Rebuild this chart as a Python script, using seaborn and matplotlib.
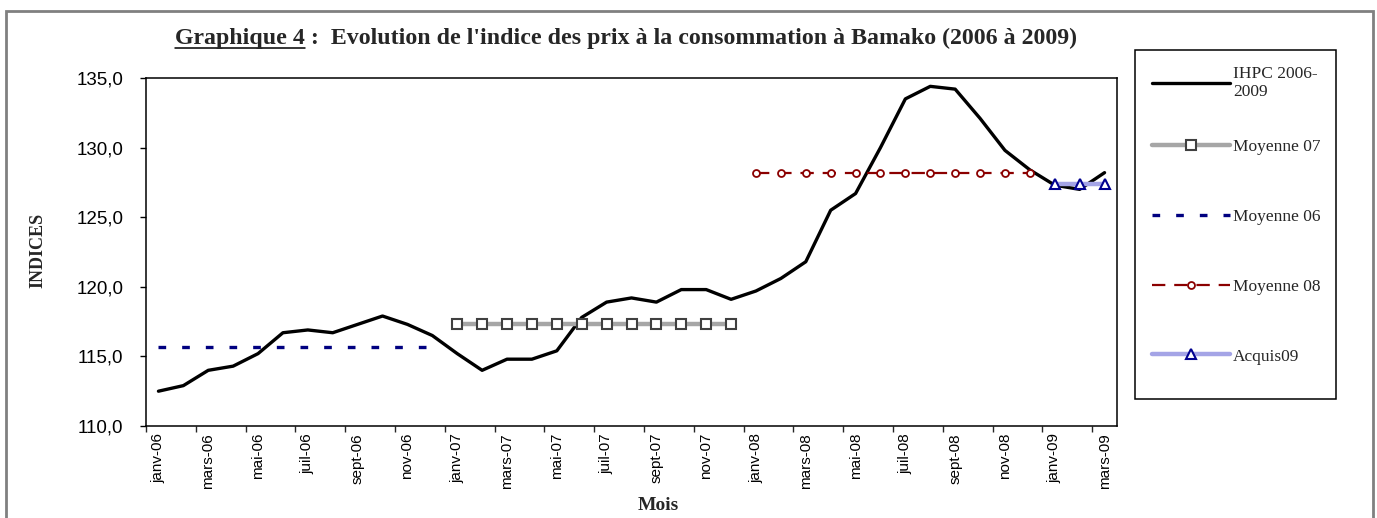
import numpy as np
import pandas as pd
import seaborn as sns
import matplotlib.pyplot as plt
from matplotlib.patches import Rectangle
from matplotlib.lines import Line2D

# ------------------------------------------------------------
# Données (IHPC Bamako, janv-06 -> mars-09)
# ------------------------------------------------------------
noms_mois = ['janv', 'févr', 'mars', 'avr', 'mai', 'juin',
             'juil', 'août', 'sept', 'oct', 'nov', 'déc']
annees = ['06', '07', '08', '09']
mois = [f'{m}-{a}' for a in annees[:3] for m in noms_mois] + ['janv-09', 'févr-09', 'mars-09']

ihpc = [112.5, 112.9, 114.0, 114.3, 115.2, 116.7, 116.9, 116.7, 117.3, 117.9, 117.3, 116.5,
        115.2, 114.0, 114.8, 114.8, 115.4, 117.8, 118.9, 119.2, 118.9, 119.8, 119.8, 119.1,
        119.7, 120.6, 121.8, 125.5, 126.7, 130.0, 133.5, 134.4, 134.2, 132.1, 129.8, 128.4,
        127.3, 127.0, 128.2]

moyenne_06 = 115.7
moyenne_07 = 117.3
moyenne_08 = 128.2
acquis_09 = 127.4

df = pd.DataFrame({'mois': mois, 'pos': np.arange(len(mois)), 'ihpc': ihpc})
df['annee'] = df['mois'].str[-2:]
df['moyenne'] = df['annee'].map({'06': moyenne_06, '07': moyenne_07,
                                 '08': moyenne_08, '09': acquis_09})

# ------------------------------------------------------------
# Style
# ------------------------------------------------------------
sns.set_theme(style='ticks')
plt.rcParams['font.family'] = ['Liberation Sans', 'DejaVu Sans']
SERIF = ['Liberation Serif', 'DejaVu Serif']
NARROW = ['Liberation Sans Narrow', 'Liberation Sans', 'DejaVu Sans']

W, H = 1377, 518
fig = plt.figure(figsize=(W / 100, H / 100), dpi=100)
ax = fig.add_axes([146 / W, 1 - 426 / H, (1117 - 146) / W, (426 - 78) / H])

# ------------------------------------------------------------
# Courbes
# ------------------------------------------------------------
sns.lineplot(data=df, x='pos', y='ihpc', ax=ax, color='black', lw=2.4,
             label='IHPC 2006-\n2009', legend=False, errorbar=None, zorder=2)

d07 = df[df['annee'] == '07']
sns.lineplot(data=d07, x='pos', y='moyenne', ax=ax, color='#a6a6a6', lw=3.2,
             marker='s', markersize=7, markerfacecolor='white', markeredgecolor='#404040',
             markeredgewidth=1.5, label='Moyenne 07', legend=False, errorbar=None, zorder=3)

d06 = df[df['annee'] == '06']
sns.lineplot(data=d06, x='pos', y='moyenne', ax=ax, color='#000080', lw=2.4,
             linestyle=(0, (2.3, 4.8)), label='Moyenne 06', legend=False,
             errorbar=None, zorder=3)

d08 = df[df['annee'] == '08']
sns.lineplot(data=d08, x='pos', y='moyenne', ax=ax, color='#8b0000', lw=1.6,
             linestyle=(0, (6.0, 4.0)), marker='o', markersize=5,
             markerfacecolor='white', markeredgecolor='#8b0000', markeredgewidth=1.3,
             label='Moyenne 08', legend=False, errorbar=None, zorder=3)

d09 = df[df['annee'] == '09']
sns.lineplot(data=d09, x='pos', y='moyenne', ax=ax, color='#a4a4e6', lw=3.2,
             marker='^', markersize=6.5, markerfacecolor='white', markeredgecolor='#000090',
             markeredgewidth=1.5, label='Acquis09', legend=False, errorbar=None, zorder=3)

# ------------------------------------------------------------
# Axes
# ------------------------------------------------------------
ax.set_xlim(-0.5, len(mois) - 0.5)
ax.set_ylim(110, 135)
yt = np.arange(110, 136, 5)
ax.set_yticks(yt, labels=[f'{v:.1f}'.replace('.', ',') for v in yt], fontsize=13.5)
ax.tick_params(axis='y', direction='out', length=4.3, width=1, pad=12, colors='black')

ax.set_xticks(df['pos'][::2], labels=df['mois'][::2], rotation=90,
              fontsize=11, family=NARROW)
ax.set_xticks(np.arange(-0.5, len(mois) - 1, 2), minor=True)
ax.tick_params(axis='x', which='major', length=0, pad=5, colors='black')
ax.tick_params(axis='x', which='minor', direction='out', length=4.3, width=1)
ax.set_xlabel('')
ax.set_ylabel('')
for s in ax.spines.values():
    s.set_visible(True)
    s.set_color('black')
    s.set_linewidth(1.1)

fig.text(38 / W, 1 - 250 / H, 'INDICES', rotation=90, ha='center', va='center',
         fontsize=13, fontweight='bold', family=SERIF)
fig.text(658 / W, 1 - 505 / H, 'Mois', ha='center', va='center',
         fontsize=14, fontweight='bold', family=SERIF)

# ------------------------------------------------------------
# Titre (avec "Graphique 4" souligné)
# ------------------------------------------------------------
titre = "Graphique 4 :  Evolution de l'indice des prix à la consommation à Bamako (2006 à 2009)"
t = fig.text(626 / W, 1 - 38 / H, titre, ha='center', va='center',
             fontsize=17.2, fontweight='bold', family=SERIF)
renderer = fig.canvas.get_renderer()
bb = t.get_window_extent(renderer)
tmp = fig.text(0, 0, 'Graphique 4', fontsize=17.2, fontweight='bold', family=SERIF)
w_sub = tmp.get_window_extent(renderer).width
tmp.remove()
y_line = (bb.y0 + 1) / H
fig.add_artist(Line2D([bb.x0 / W, (bb.x0 + w_sub) / W], [y_line, y_line],
                      transform=fig.transFigure, color='black', lw=1.1))

# ------------------------------------------------------------
# Légende (cadre à droite)
# ------------------------------------------------------------
handles, labels = ax.get_legend_handles_labels()
prop = {'family': SERIF, 'size': 12.5}
leg1 = ax.legend(handles[:1], labels[:1], loc='center left',
                 bbox_to_anchor=(1152 / W, 1 - 83 / H), bbox_transform=fig.transFigure,
                 frameon=False, handlelength=4.5, handletextpad=0.17, borderpad=0,
                 borderaxespad=0, prop=prop)
ax.add_artist(leg1)
ax.legend(handles[1:], labels[1:], loc='upper left',
          bbox_to_anchor=(1152 / W, 1 - 139 / H), bbox_transform=fig.transFigure,
          frameon=False, handlelength=4.5, handletextpad=0.17, borderpad=0,
          borderaxespad=0, labelspacing=3.09, prop=prop)

fig.add_artist(Rectangle((1135 / W, 1 - 399 / H), (1336 - 1135) / W, (399 - 50) / H,
                         transform=fig.transFigure, fill=False, edgecolor='black', lw=1.1))
# cadre gris extérieur
fig.add_artist(Rectangle((6 / W, -0.1), (1373 - 6) / W, 1.1 - 11 / H,
                         transform=fig.transFigure, fill=False, edgecolor='#808080', lw=2))

fig.savefig('out.png', dpi=100)
